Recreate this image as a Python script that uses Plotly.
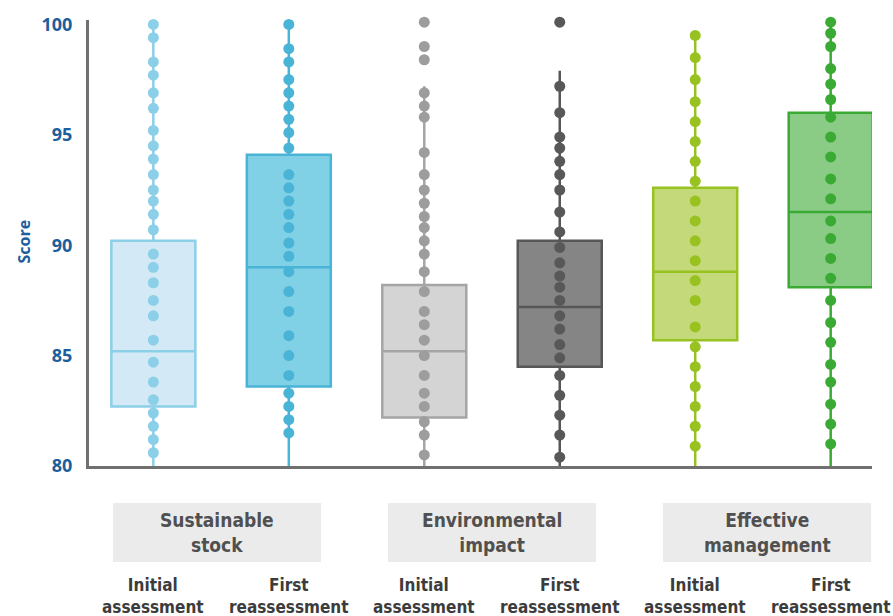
import plotly.graph_objects as go

# Assessment categories and phases
groups = ["Sustainable<br>stock", "Environmental<br>impact", "Effective<br>management"]
phases = ["Initial<br>assessment", "First<br>reassessment"]

# Individual scores per box (top to bottom)
sust_initial = [100.0, 99.4, 98.3, 97.7, 96.9, 96.2, 95.2, 94.5, 93.9, 93.2, 92.5, 92.0, 91.4, 90.7,
                89.6, 89.0, 88.3, 87.5, 86.8, 85.7, 84.7, 83.8, 83.0, 82.4, 81.8, 81.2, 80.6]
sust_first = [100.0, 98.9, 98.3, 97.5, 96.9, 96.3, 95.7, 95.1, 94.4, 93.2, 92.6, 92.0, 91.4, 90.8,
              90.1, 89.5, 88.8, 87.9, 87.0, 85.9, 85.0, 84.1, 83.3, 82.7, 82.1, 81.5]
env_initial = [100.1, 99.0, 98.4, 96.9, 96.3, 95.8, 94.2, 93.2, 92.5, 91.9, 91.3, 90.8, 90.2, 89.6,
               88.8, 87.9, 87.0, 86.4, 85.7, 85.0, 84.1, 83.3, 82.7, 82.0, 81.4, 80.5]
env_first = [100.1, 97.2, 96.0, 94.9, 94.4, 93.8, 93.2, 92.5, 91.5, 90.6, 89.9, 89.2, 88.6, 88.1,
             87.5, 86.8, 86.2, 85.5, 84.9, 84.1, 83.2, 82.3, 81.4, 80.4]
eff_initial = [99.5, 98.5, 97.5, 96.5, 95.6, 94.7, 93.8, 92.9, 92.0, 91.1, 90.2, 89.3, 88.4, 87.5,
               86.3, 85.4, 84.5, 83.6, 82.7, 81.8, 80.9]
eff_first = [100.1, 99.6, 99.0, 98.0, 97.3, 96.6, 95.8, 94.9, 94.0, 93.0, 92.1, 91.1, 90.3, 89.4,
             88.5, 87.5, 86.5, 85.6, 84.6, 83.8, 82.8, 81.9, 81.0]

# Box statistics: q1, median, q3, lower whisker, upper whisker
q1 = [82.7, 83.6, 82.2, 84.5, 85.7, 88.1]
median = [85.2, 89.0, 85.2, 87.2, 88.8, 91.5]
q3 = [90.2, 94.1, 88.2, 90.2, 92.6, 96.0]
lower_whisker = [80.0, 80.0, 80.0, 80.0, 80.0, 80.0]
upper_whisker = [100.0, 100.0, 97.2, 97.9, 99.5, 100.0]

y_ticks = [80, 85, 90, 95, 100]

series = [sust_initial, sust_first, env_initial, env_first, eff_initial, eff_first]
fills = ["#d3e9f5", "#80d0e6", "#d4d4d4", "#858585", "#c3d97a", "#8acc86"]
lines = ["#8ccfe8", "#4ab4d7", "#a5a5a5", "#575757", "#98c21f", "#3aaa35"]
dots = ["#8ccfe8", "#4ab4d7", "#9d9d9d", "#585858", "#98c21f", "#3aaa35"]

fig = go.Figure()

for i, vals in enumerate(series):
    fig.add_trace(go.Box(
        x=[i], q1=[q1[i]], median=[median[i]], q3=[q3[i]],
        lowerfence=[lower_whisker[i]], upperfence=[upper_whisker[i]],
        width=0.62, whiskerwidth=0,
        fillcolor=fills[i], line=dict(color=lines[i], width=2.5),
        boxpoints=False, hoverinfo="skip", showlegend=False,
    ))
    fig.add_trace(go.Scatter(
        x=[i] * len(vals), y=vals, mode="markers",
        marker=dict(color=dots[i], size=11, line=dict(width=0)),
        cliponaxis=False, showlegend=False,
    ))

label_font = "Liberation Sans Narrow, DejaVu Sans Condensed, Roboto Condensed, sans-serif"
blue = "#1d5e9c"

# Grey panels with group names under each pair of boxes
panel_centers = [0.47, 2.5, 4.53]
for cx, name in zip(panel_centers, groups):
    fig.add_shape(type="rect", xref="x", yref="paper",
                  x0=cx - 0.768, x1=cx + 0.768, y0=-0.215, y1=-0.083,
                  fillcolor="#ebebeb", line=dict(width=0), layer="below")
    fig.add_annotation(x=cx, y=-0.149, xref="x", yref="paper", text="<b>" + name + "</b>",
                       showarrow=False, font=dict(family=label_font, size=19, color="#505050"),
                       yanchor="middle", xanchor="center")

# Phase labels under every box
for i in range(6):
    fig.add_annotation(x=i, y=-0.291, xref="x", yref="paper", text="<b>" + phases[i % 2] + "</b>",
                       showarrow=False, font=dict(family=label_font, size=17, color="#3c3c3c"),
                       yanchor="middle", xanchor="center")

# Vertical axis title, placed in pixel terms relative to the plot area
plot_w = 893 - 89 - 21
plot_h = 616 - 17 - 150
fig.add_annotation(x=(24 - 89) / plot_w, y=(616 - 150 - 240) / plot_h, xref="paper", yref="paper",
                   text="<b>Score</b>", textangle=-90, showarrow=False,
                   font=dict(family="Open Sans, sans-serif", size=16, color=blue),
                   xanchor="center", yanchor="middle")

fig.update_layout(
    width=893, height=616,
    margin=dict(l=89, r=21, t=17, b=150),
    plot_bgcolor="white", paper_bgcolor="white",
    showlegend=False,
    xaxis=dict(range=[-0.475, 5.305], showticklabels=False, showgrid=False, zeroline=False,
               showline=True, linecolor="#707070", linewidth=3, ticks=""),
    yaxis=dict(range=[80, 100.2], tickvals=y_ticks, ticktext=["<b>%d</b>" % t for t in y_ticks],
               showgrid=False, zeroline=False, showline=True, linecolor="#707070", linewidth=3,
               ticks="", ticklabelstandoff=10,
               tickfont=dict(family="Open Sans, sans-serif", size=18, color=blue)),
)

fig.write_html("out.html")
